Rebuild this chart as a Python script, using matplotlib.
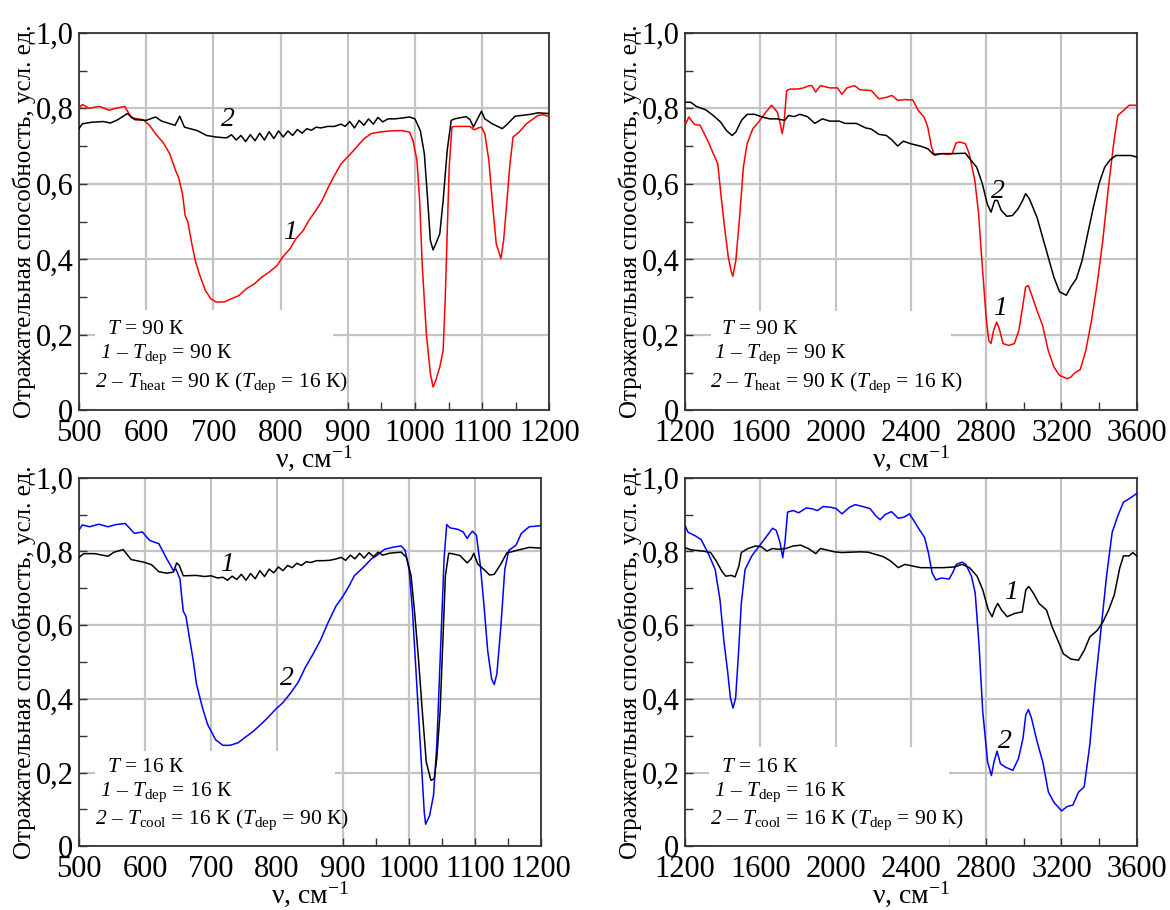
import matplotlib.pyplot as plt
from matplotlib.patches import Rectangle
from matplotlib.ticker import MultipleLocator, FuncFormatter

plt.rcParams['font.family'] = ['Liberation Serif', 'DejaVu Serif']
plt.rcParams['mathtext.fontset'] = 'custom'
plt.rcParams['mathtext.rm'] = 'Liberation Serif'
plt.rcParams['mathtext.it'] = 'Liberation Serif:italic'
plt.rcParams['mathtext.sf'] = 'Liberation Serif:italic'  # курсивные цифры

# ---- панель (а): 90 К, 500-1200 см-1 ----
a_nu1 = [500, 505, 515, 530, 545, 555, 568, 578, 595, 605, 615, 625, 635, 644, 648, 654, 658, 662,
         668, 673, 679, 688, 696, 704, 716, 727, 738, 749, 761, 772, 783, 795, 803, 814, 823, 834,
         842, 851, 862, 871, 879, 890, 902, 913, 924, 935, 947, 963, 980, 992, 997, 1003, 1007,
         1011, 1017, 1023, 1027, 1031, 1037, 1042, 1045, 1048, 1051, 1055, 1059, 1082, 1088, 1094,
         1099, 1104, 1110, 1115, 1121, 1128, 1132, 1137, 1141, 1146, 1155, 1166, 1183, 1191, 1200]
a_r1 = [0.800, 0.810, 0.800, 0.805, 0.795, 0.800, 0.805, 0.775, 0.770, 0.755, 0.730, 0.710, 0.680,
        0.634, 0.618, 0.574, 0.516, 0.499, 0.441, 0.397, 0.362, 0.318, 0.296, 0.287, 0.287, 0.296,
        0.304, 0.322, 0.335, 0.353, 0.366, 0.384, 0.406, 0.428, 0.455, 0.477, 0.503, 0.525, 0.556,
        0.591, 0.618, 0.653, 0.675, 0.697, 0.719, 0.733, 0.737, 0.740, 0.741, 0.737, 0.715, 0.662,
        0.556, 0.380, 0.203, 0.097, 0.062, 0.079, 0.115, 0.159, 0.291, 0.468, 0.644, 0.750, 0.752,
        0.752, 0.743, 0.748, 0.750, 0.733, 0.662, 0.556, 0.441, 0.402, 0.450, 0.556, 0.644, 0.724,
        0.737, 0.759, 0.781, 0.783, 0.778]
a_nu2 = [500, 505, 519, 536, 547, 558, 572, 583, 600, 614, 623, 643, 650, 657, 676, 690, 704, 716,
         720, 727, 734, 741, 748, 755, 762, 769, 776, 783, 790, 797, 804, 811, 818, 825, 832, 839,
         846, 853, 860, 870, 880, 890, 896, 903, 910, 917, 924, 931, 938, 945, 952, 960, 970, 980,
         992, 1000, 1008, 1014, 1019, 1023, 1027, 1031, 1037, 1042, 1048, 1054, 1059, 1076, 1082,
         1087, 1092, 1099, 1104, 1115, 1130, 1138, 1149, 1172, 1183, 1200]
a_r2 = [0.746, 0.759, 0.763, 0.765, 0.761, 0.770, 0.786, 0.770, 0.768, 0.777, 0.766, 0.755, 0.779,
        0.750, 0.741, 0.728, 0.724, 0.722, 0.722, 0.730, 0.716, 0.728, 0.712, 0.730, 0.714, 0.734,
        0.716, 0.738, 0.720, 0.740, 0.724, 0.740, 0.728, 0.744, 0.734, 0.746, 0.742, 0.750, 0.748,
        0.752, 0.752, 0.758, 0.752, 0.765, 0.748, 0.768, 0.755, 0.772, 0.758, 0.776, 0.764, 0.772,
        0.772, 0.774, 0.777, 0.772, 0.741, 0.680, 0.556, 0.450, 0.425, 0.441, 0.468, 0.556, 0.688,
        0.768, 0.772, 0.778, 0.770, 0.750, 0.768, 0.792, 0.772, 0.759, 0.746, 0.759, 0.779, 0.784,
        0.788, 0.786]

# ---- панель (б): 90 К, 1200-3600 см-1 ----
b_nu1 = [1200, 1220, 1250, 1280, 1320, 1350, 1374, 1394, 1410, 1430, 1444, 1454, 1470, 1490, 1510,
         1530, 1560, 1590, 1630, 1660, 1690, 1706, 1716, 1726, 1740, 1760, 1800, 1830, 1860, 1874,
         1894, 1920, 1970, 2010, 2034, 2060, 2100, 2130, 2190, 2230, 2270, 2300, 2330, 2370, 2410,
         2440, 2470, 2490, 2510, 2526, 2560, 2600, 2620, 2640, 2660, 2690, 2710, 2740, 2760, 2780,
         2800, 2814, 2826, 2840, 2856, 2870, 2890, 2920, 2950, 2974, 2994, 3010, 3024, 3040, 3070,
         3100, 3130, 3160, 3190, 3230, 3250, 3270, 3300, 3330, 3360, 3390, 3420, 3450, 3480, 3500,
         3530, 3560, 3600]
b_r1 = [0.755, 0.777, 0.757, 0.755, 0.715, 0.680, 0.653, 0.556, 0.485, 0.406, 0.371, 0.355, 0.397,
        0.512, 0.644, 0.706, 0.746, 0.763, 0.790, 0.808, 0.790, 0.759, 0.733, 0.759, 0.847, 0.851,
        0.851, 0.854, 0.860, 0.860, 0.843, 0.860, 0.854, 0.854, 0.837, 0.854, 0.860, 0.849, 0.847,
        0.825, 0.829, 0.834, 0.821, 0.823, 0.822, 0.794, 0.777, 0.750, 0.697, 0.675, 0.680, 0.678,
        0.680, 0.708, 0.711, 0.706, 0.680, 0.609, 0.521, 0.380, 0.247, 0.185, 0.177, 0.212, 0.234,
        0.216, 0.177, 0.172, 0.177, 0.212, 0.274, 0.327, 0.331, 0.309, 0.265, 0.225, 0.159, 0.115,
        0.093, 0.084, 0.088, 0.099, 0.108, 0.159, 0.238, 0.335, 0.450, 0.591, 0.715, 0.781, 0.794,
        0.808, 0.808]
b_nu2 = [1200, 1230, 1260, 1310, 1350, 1390, 1420, 1450, 1470, 1500, 1530, 1570, 1610, 1650, 1690,
         1730, 1750, 1780, 1810, 1850, 1890, 1930, 1970, 2020, 2050, 2110, 2160, 2190, 2230, 2270,
         2300, 2330, 2360, 2400, 2450, 2490, 2520, 2570, 2630, 2690, 2720, 2750, 2780, 2806, 2826,
         2846, 2860, 2880, 2910, 2940, 2970, 2994, 3010, 3030, 3070, 3100, 3130, 3160, 3190, 3226,
         3250, 3280, 3310, 3340, 3370, 3400, 3430, 3460, 3490, 3530, 3570, 3600]
b_r2 = [0.816, 0.816, 0.805, 0.796, 0.781, 0.763, 0.741, 0.728, 0.737, 0.768, 0.784, 0.784, 0.777,
        0.772, 0.772, 0.768, 0.781, 0.778, 0.784, 0.778, 0.760, 0.772, 0.766, 0.766, 0.760, 0.760,
        0.748, 0.745, 0.731, 0.728, 0.716, 0.700, 0.713, 0.706, 0.700, 0.693, 0.678, 0.680, 0.680,
        0.681, 0.662, 0.644, 0.600, 0.547, 0.525, 0.556, 0.556, 0.530, 0.514, 0.516, 0.534, 0.556,
        0.574, 0.560, 0.512, 0.459, 0.406, 0.353, 0.314, 0.305, 0.327, 0.349, 0.397, 0.468, 0.538,
        0.600, 0.644, 0.664, 0.675, 0.675, 0.675, 0.671]

# ---- панель (в): 16 К, 500-1200 см-1 ----
c_nu1 = [500, 507, 524, 544, 553, 567, 579, 598, 610, 621, 633, 643, 648, 652, 658, 678, 690, 700,
         710, 718, 725, 732, 739, 746, 753, 760, 767, 774, 781, 788, 795, 802, 809, 816, 823, 830,
         837, 844, 851, 860, 870, 880, 890, 897, 904, 911, 918, 925, 932, 939, 946, 953, 960, 970,
         980, 988, 996, 1003, 1008, 1014, 1020, 1026, 1033, 1038, 1042, 1047, 1051, 1055, 1060,
         1065, 1077, 1088, 1094, 1098, 1104, 1114, 1122, 1129, 1139, 1148, 1168, 1182, 1200]
c_r1 = [0.784, 0.794, 0.794, 0.787, 0.798, 0.805, 0.778, 0.771, 0.764, 0.745, 0.741, 0.744, 0.769,
        0.762, 0.734, 0.735, 0.732, 0.734, 0.728, 0.730, 0.722, 0.733, 0.724, 0.738, 0.722, 0.740,
        0.726, 0.748, 0.732, 0.752, 0.742, 0.758, 0.748, 0.762, 0.756, 0.768, 0.762, 0.772, 0.770,
        0.775, 0.775, 0.776, 0.780, 0.784, 0.776, 0.790, 0.780, 0.795, 0.782, 0.797, 0.786, 0.798,
        0.790, 0.795, 0.797, 0.798, 0.784, 0.734, 0.642, 0.514, 0.367, 0.229, 0.179, 0.183, 0.239,
        0.367, 0.550, 0.734, 0.795, 0.794, 0.789, 0.769, 0.780, 0.795, 0.766, 0.750, 0.736, 0.738,
        0.766, 0.796, 0.805, 0.811, 0.809]
c_nu2 = [500, 505, 516, 530, 544, 556, 570, 584, 596, 607, 621, 633, 643, 647, 653, 655, 658, 662,
         667, 673, 678, 687, 695, 707, 718, 729, 741, 752, 764, 775, 786, 798, 809, 821, 832, 843,
         855, 866, 877, 889, 900, 909, 917, 929, 943, 951, 963, 977, 988, 994, 1000, 1005, 1011,
         1017, 1023, 1025, 1031, 1037, 1042, 1048, 1053, 1057, 1062, 1074, 1082, 1088, 1091, 1096,
         1102, 1108, 1114, 1119, 1125, 1129, 1133, 1139, 1145, 1151, 1162, 1170, 1182, 1200]
c_r2 = [0.858, 0.872, 0.867, 0.874, 0.867, 0.873, 0.876, 0.849, 0.853, 0.830, 0.821, 0.780, 0.748,
        0.752, 0.725, 0.688, 0.638, 0.624, 0.569, 0.505, 0.440, 0.376, 0.330, 0.289, 0.274, 0.274,
        0.281, 0.296, 0.312, 0.330, 0.349, 0.372, 0.390, 0.417, 0.445, 0.486, 0.523, 0.560, 0.606,
        0.651, 0.679, 0.706, 0.734, 0.754, 0.780, 0.789, 0.806, 0.812, 0.815, 0.803, 0.752, 0.642,
        0.459, 0.275, 0.092, 0.060, 0.083, 0.138, 0.275, 0.550, 0.780, 0.873, 0.864, 0.860, 0.853,
        0.835, 0.844, 0.855, 0.844, 0.761, 0.642, 0.532, 0.454, 0.439, 0.468, 0.596, 0.752, 0.803,
        0.817, 0.849, 0.867, 0.870]

# ---- панель (г): 16 К, 1200-3600 см-1 ----
d_nu1 = [1200, 1236, 1296, 1336, 1366, 1396, 1416, 1446, 1466, 1486, 1499, 1535, 1575, 1605, 1635,
         1665, 1695, 1735, 1775, 1815, 1855, 1895, 1919, 1954, 1994, 2034, 2074, 2134, 2173, 2213,
         2253, 2293, 2333, 2369, 2413, 2453, 2513, 2572, 2632, 2672, 2712, 2752, 2782, 2812, 2832,
         2848, 2862, 2882, 2912, 2952, 2992, 3011, 3027, 3051, 3081, 3121, 3151, 3181, 3211, 3251,
         3291, 3321, 3351, 3391, 3421, 3451, 3481, 3510, 3530, 3560, 3580, 3600]
d_r1 = [0.810, 0.804, 0.801, 0.797, 0.774, 0.746, 0.733, 0.735, 0.731, 0.760, 0.797, 0.808, 0.815,
        0.813, 0.801, 0.808, 0.806, 0.808, 0.815, 0.817, 0.808, 0.794, 0.808, 0.804, 0.799, 0.797,
        0.798, 0.799, 0.798, 0.792, 0.786, 0.774, 0.756, 0.765, 0.760, 0.756, 0.756, 0.756, 0.758,
        0.765, 0.756, 0.733, 0.696, 0.641, 0.623, 0.646, 0.659, 0.641, 0.623, 0.632, 0.636, 0.696,
        0.705, 0.687, 0.659, 0.641, 0.595, 0.559, 0.522, 0.508, 0.505, 0.531, 0.568, 0.586, 0.609,
        0.641, 0.682, 0.755, 0.788, 0.788, 0.797, 0.788]
d_nu2 = [1200, 1216, 1256, 1286, 1326, 1360, 1386, 1406, 1426, 1441, 1455, 1469, 1485, 1499, 1519,
         1555, 1595, 1635, 1665, 1685, 1705, 1719, 1731, 1745, 1775, 1804, 1844, 1874, 1904, 1934,
         1974, 2004, 2034, 2074, 2104, 2144, 2184, 2213, 2237, 2263, 2297, 2333, 2363, 2393, 2413,
         2443, 2473, 2493, 2513, 2533, 2563, 2603, 2622, 2642, 2672, 2692, 2722, 2742, 2762, 2782,
         2808, 2828, 2842, 2858, 2876, 2902, 2942, 2972, 2996, 3011, 3025, 3041, 3071, 3101, 3131,
         3161, 3201, 3231, 3261, 3291, 3321, 3351, 3380, 3410, 3440, 3470, 3500, 3530, 3560, 3600]
d_r2 = [0.870, 0.852, 0.842, 0.832, 0.792, 0.751, 0.668, 0.559, 0.476, 0.403, 0.375, 0.403, 0.531,
        0.659, 0.751, 0.788, 0.815, 0.842, 0.863, 0.857, 0.824, 0.783, 0.824, 0.907, 0.911, 0.905,
        0.918, 0.916, 0.911, 0.922, 0.920, 0.916, 0.902, 0.920, 0.927, 0.922, 0.916, 0.897, 0.886,
        0.900, 0.908, 0.890, 0.893, 0.902, 0.886, 0.861, 0.838, 0.797, 0.742, 0.723, 0.728, 0.725,
        0.742, 0.765, 0.771, 0.765, 0.733, 0.687, 0.549, 0.366, 0.229, 0.192, 0.229, 0.258, 0.224,
        0.215, 0.206, 0.238, 0.293, 0.357, 0.371, 0.348, 0.284, 0.229, 0.147, 0.119, 0.096, 0.108,
        0.112, 0.147, 0.161, 0.275, 0.440, 0.586, 0.733, 0.852, 0.897, 0.934, 0.943, 0.957]

ylabel = 'Отражательная способность, усл. ед.'
xlabel = 'ν, см$^{\\mathrm{-1}}$'
notes_90 = ['$\\mathit{T}$ = 90 К',
            '$\\mathsf{1}$ – $\\mathit{T}_{\\mathrm{dep}}$ = 90 К',
            '$\\mathsf{2}$ – $\\mathit{T}_{\\mathrm{heat}}$ = 90 К ($\\mathit{T}_{\\mathrm{dep}}$ = 16 К)']
notes_16 = ['$\\mathit{T}$ = 16 К',
            '$\\mathsf{1}$ – $\\mathit{T}_{\\mathrm{dep}}$ = 16 К',
            '$\\mathsf{2}$ – $\\mathit{T}_{\\mathrm{cool}}$ = 16 К ($\\mathit{T}_{\\mathrm{dep}}$ = 90 К)']

fig = plt.figure(figsize=(11.7, 9.1), dpi=100)

panels = [
    # rect, xlim, major, minor, curves, labels, notes, white box, note x
    ([0.0675, 0.549, 0.402, 0.415], (500, 1200), 100, 50,
     [(a_nu1, a_r1, '#ff0000'), (a_nu2, a_r2, 'black')],
     [('1', 814, 0.47), ('2', 721, 0.77)], notes_90, (0.035, 0.54, 0.266), 0.06),
    ([0.5855, 0.549, 0.386, 0.415], (1200, 3600), 400, 200,
     [(b_nu1, b_r1, '#ff0000'), (b_nu2, b_r2, 'black')],
     [('1', 2874, 0.27), ('2', 2862, 0.58)], notes_90, (0.058, 0.588, 0.262), 0.08),
    ([0.0675, 0.07, 0.395, 0.405], (500, 1200), 100, 50,
     [(c_nu2, c_r2, '#0000ff'), (c_nu1, c_r1, 'black')],
     [('1', 724, 0.765), ('2', 815, 0.455)], notes_16, (0.035, 0.554, 0.259), 0.06),
    ([0.5855, 0.07, 0.386, 0.405], (1200, 3600), 400, 200,
     [(d_nu2, d_r2, '#0000ff'), (d_nu1, d_r1, 'black')],
     [('1', 2932, 0.69), ('2', 2902, 0.285)], notes_16, (0.053, 0.584, 0.27), 0.08),
]

for rect, xlim, major, minor, curves, labels, notes, box, nx in panels:
    ax = fig.add_axes(rect)
    ax.set_axisbelow(True)
    ax.grid(True, which='major', color='#c4c4c4', linewidth=1.6)
    ax.add_patch(Rectangle((box[0], 0), box[1] - box[0], box[2], transform=ax.transAxes,
                           facecolor='white', edgecolor='none', zorder=1))
    for nu, r, c in curves:
        ax.plot(nu, r, color=c, linewidth=1.1, zorder=3)
    for s, x, y in labels:
        ax.text(x, y, s, fontsize=20, fontstyle='italic', ha='center', va='center', zorder=4)
    ax.text(nx, 0.215, notes[0], transform=ax.transAxes, fontsize=15.5, va='center', zorder=4)
    ax.text(nx - 0.015, 0.148, notes[1], transform=ax.transAxes, fontsize=15.5, va='center', zorder=4)
    ax.text(nx - 0.025, 0.072, notes[2], transform=ax.transAxes, fontsize=15.5, va='center', zorder=4)

    ax.set_xlim(*xlim)
    ax.set_ylim(0, 1.0)
    ax.xaxis.set_major_locator(MultipleLocator(major))
    ax.xaxis.set_minor_locator(MultipleLocator(minor))
    ax.yaxis.set_major_locator(MultipleLocator(0.2))
    ax.yaxis.set_minor_locator(MultipleLocator(0.1))
    ax.yaxis.set_major_formatter(FuncFormatter(lambda v, p: '0' if abs(v) < 1e-9 else f'{v:.1f}'.replace('.', ',')))
    ax.tick_params(which='both', direction='in', labelsize=22, width=1.0, color='#333333')
    ax.tick_params(axis='x', which='major', length=6, pad=6)
    ax.tick_params(axis='y', which='major', length=6, pad=4)
    ax.tick_params(which='minor', length=6)
    for sp in ax.spines.values():
        sp.set_linewidth(1.3)
        sp.set_color('#333333')
    ax.set_xlabel(xlabel, fontsize=20, labelpad=-3)
    ax.set_ylabel(ylabel, fontsize=18, labelpad=0)

fig.savefig('out.png', dpi=100)
